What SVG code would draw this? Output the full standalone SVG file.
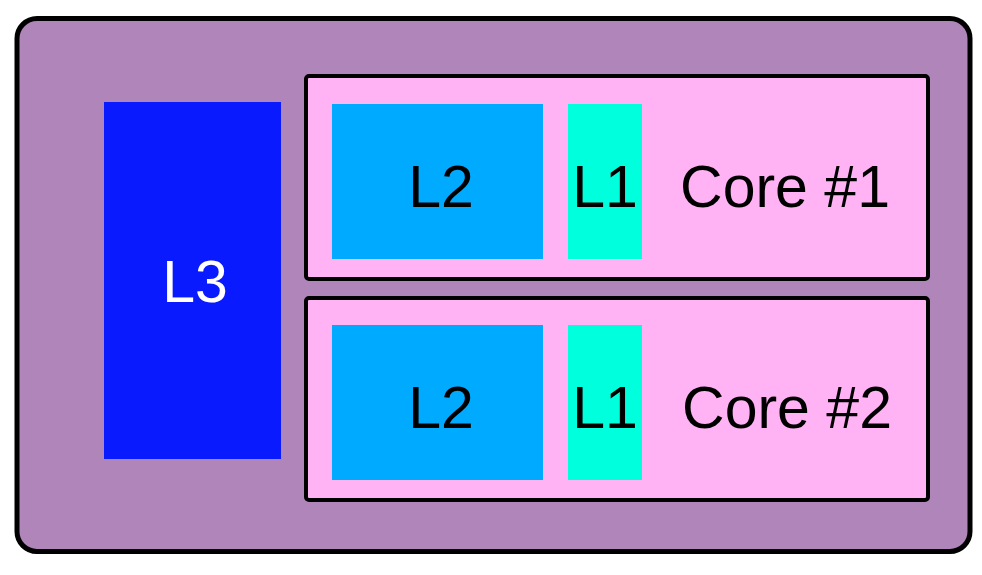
<svg xmlns="http://www.w3.org/2000/svg" width="982" height="575" viewBox="0 0 982 575">
<style>
.lbl{font-family:"Liberation Sans",Arial,sans-serif;font-size:59px;text-anchor:middle}
.core{fill:#FFB3F5;stroke:#000;stroke-width:4}
.l2{fill:#00AAFF}
.l1{fill:#00FFDD}
</style>
<rect width="982" height="575" fill="#FFFFFF"/>
<g id="chip">
<rect x="17" y="18.5" width="953" height="533" rx="20" ry="20" fill="#B085B9" stroke="#000" stroke-width="5"/>
</g>
<g id="l3">
<rect x="104" y="102" width="177" height="357" fill="#0A1AFF"/>
<text class="lbl" x="195" y="302" fill="#FFFFFF">L3</text>
</g>
<g id="core1">
<rect class="core" x="306" y="76" width="622" height="203" rx="3"/>
<rect class="l2" x="332" y="104" width="211" height="155"/>
<text class="lbl" x="441" y="207">L2</text>
<rect class="l1" x="568" y="104" width="74" height="155"/>
<text class="lbl" x="605" y="207">L1</text>
<text class="lbl" x="785" y="207">Core #1</text>
</g>
<g id="core2">
<rect class="core" x="306" y="298" width="622" height="202" rx="3"/>
<rect class="l2" x="332" y="325" width="211" height="155"/>
<text class="lbl" x="441" y="428">L2</text>
<rect class="l1" x="568" y="325" width="74" height="155"/>
<text class="lbl" x="605" y="428">L1</text>
<text class="lbl" x="787" y="428">Core #2</text>
</g>
<g id="connectors"/>
</svg>
